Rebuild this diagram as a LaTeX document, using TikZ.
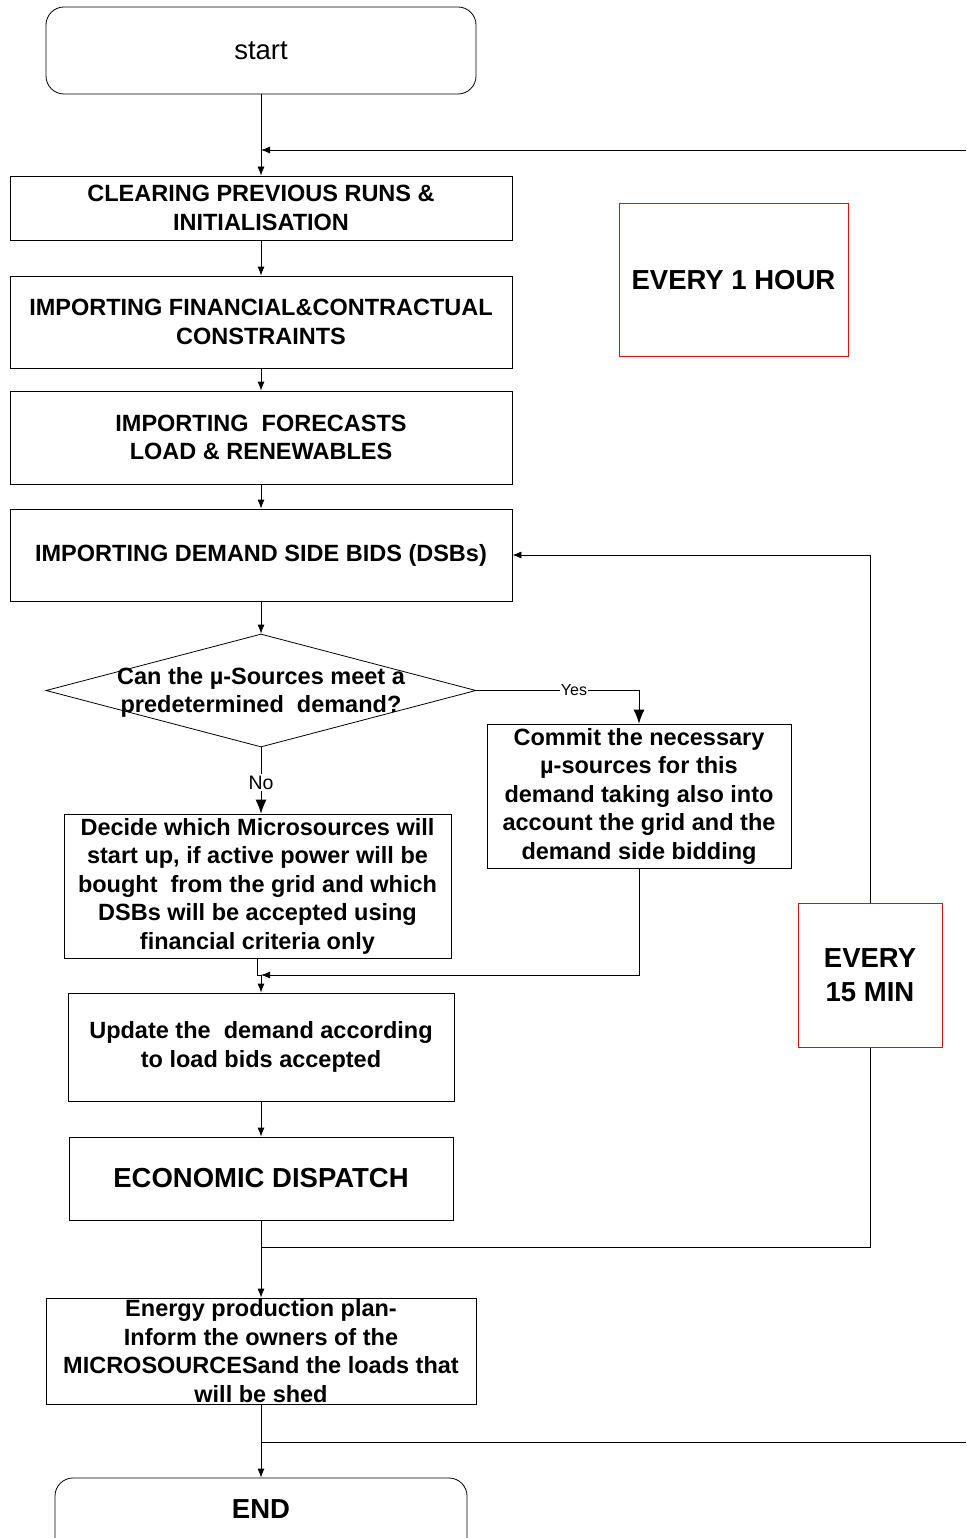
\documentclass[tikz,border=0pt]{standalone}
\usepackage{fontspec}
\setmainfont{Liberation Sans}
\usetikzlibrary{arrows.meta,shapes.geometric}
\begin{document}
\begin{tikzpicture}[x=1pt,y=-1pt,
 every node/.style={inner sep=0pt, align=center},
 box/.style={draw, line width=0.8pt, font=\bfseries\fontsize{23.5}{28.5}\selectfont},
 rbox/.style={box, rounded corners=18pt},
 redbox/.style={draw=red, line width=1pt, fill=white, align=center, font=\bfseries\fontsize{27.5}{34}\selectfont},
 bigtxt/.style={font=\bfseries\fontsize{27.5}{33}\selectfont},
 conn/.style={line width=0.8pt},
 arr/.style={conn, -{Latex[length=9pt,width=7pt]}},
 bigarr/.style={conn, -{Latex[length=14pt,width=11pt]}},
]
\useasboundingbox (0,0) rectangle (966,1538);
\clip (0,0) rectangle (966,1538);

\node[rbox, minimum width=430pt, minimum height=87pt, font=\fontsize{27.5}{33}\selectfont] (start) at (261,50.5) {start};
\node[box, minimum width=502pt, minimum height=64pt] (clr) at (261,208) {CLEARING PREVIOUS RUNS \&\\INITIALISATION};
\node[box, minimum width=502pt, minimum height=92pt] (fin) at (261,322) {IMPORTING FINANCIAL\&CONTRACTUAL\\CONSTRAINTS};
\node[box, minimum width=502pt, minimum height=93pt] (fc) at (261,437.5) {IMPORTING\ \ FORECASTS\\LOAD \& RENEWABLES};
\node[box, minimum width=502pt, minimum height=92pt] (dsb) at (261,555) {IMPORTING DEMAND SIDE BIDS (DSBs)};
\node[draw, diamond, line width=0.8pt, minimum width=430pt, minimum height=113pt] (dia) at (261,690.5) {};
\node[font=\bfseries\fontsize{23.5}{28.5}\selectfont] (diat) at (261,692.5) {Can the µ-Sources meet a\\predetermined\ \ demand?};
\node[box, minimum width=304pt, minimum height=144pt] (com) at (639,796) {Commit the necessary\\µ-sources for this\\demand taking also into\\account the grid and the\\demand side bidding};
\node[box, minimum width=387pt, minimum height=144pt] (dec) at (257.5,886) {Decide which Microsources will\\start up, if active power will be\\bought\ \ from the grid and which\\DSBs will be accepted using\\financial criteria only};
\node[box, minimum width=386pt, minimum height=108pt] (upd) at (261,1047) {Update the\ \ demand according\\to load bids accepted};
\node[box, minimum width=384pt, minimum height=83pt, bigtxt] (ed) at (261,1178.5) {ECONOMIC DISPATCH};
\node[box, minimum width=430pt, minimum height=106pt] (en) at (261,1351) {Energy production plan-\\Inform the owners of the\\MICROSOURCESand the loads that\\will be shed};
\node[rbox, minimum width=412pt, minimum height=87pt] (stop) at (261,1521.5) {};
\node[bigtxt] (stopt) at (261,1509) {END};
\node[redbox, minimum width=229pt, minimum height=152pt] (hr) at (733.5,280) {EVERY 1 HOUR};
\node[redbox, minimum width=144pt, minimum height=144pt] (mn) at (870,975) {EVERY\\15 MIN};

% main flow
\draw[arr] (start) -- (clr);
\coordinate (l1) at (261,150);
\coordinate (r2) at (966,150);
\draw[arr] (r2) -- (l1);
\draw[arr] (clr) -- (fin);
\draw[arr] (fin) -- (fc);
\draw[arr] (fc) -- (dsb);
\draw[arr] (dsb.south) -- (dia.north);
\draw[bigarr] (dia.east) -| (com.north) node[pos=0.3, fill=white, inner sep=1pt, font=\fontsize{16}{19}\selectfont] (yes) {Yes};
\draw[bigarr] (dia.south) -- (dia.south |- dec.north) node[pos=0.53, fill=white, inner sep=1.5pt, font=\fontsize{19.5}{22}\selectfont] (no) {No};
\coordinate (m) at (261,975);
\draw[conn] (dec.south) -- (dec.south |- m) -- (m);
\draw[arr] (com.south) |- (m);
\draw[arr] (m) -- (upd.north);
\draw[arr] (upd) -- (ed);
\draw[arr] (ed) -- (en);
\coordinate (b1) at (261,1247);
\draw[conn] (b1) -| (mn.south);
\draw[arr] (mn.north) |- (dsb.east);
\draw[arr] (en) -- (stop);
\coordinate (b2) at (261,1442);
\coordinate (r1) at (966,1442);
\draw[conn] (b2) -- (r1);
\end{tikzpicture}
\end{document}
